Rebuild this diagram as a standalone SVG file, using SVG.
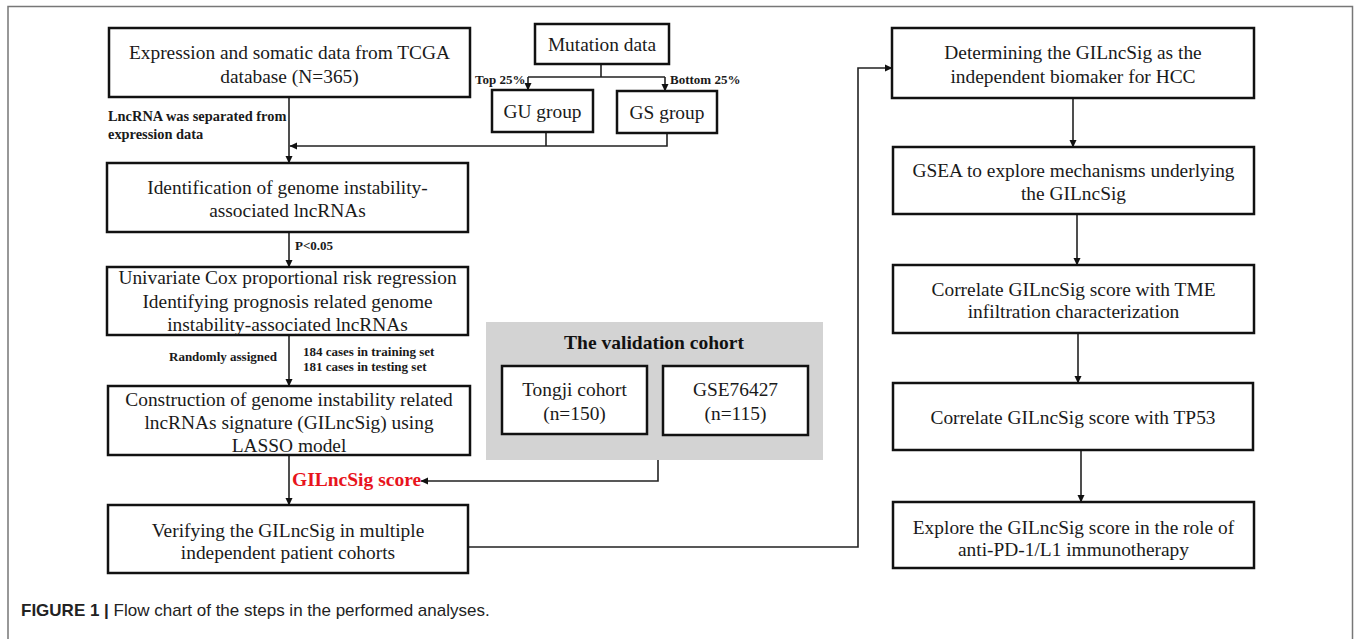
<svg xmlns="http://www.w3.org/2000/svg" width="1354" height="639" viewBox="0 0 1354 639">
<defs>
<marker id="ah" markerWidth="8" markerHeight="8" refX="7" refY="4" orient="auto" markerUnits="userSpaceOnUse">
<path d="M0,0.5 L7.5,4 L0,7.5 Z" fill="#111"/>
</marker>
</defs>
<style>
.box{fill:#fff;stroke:#111;stroke-width:2.5}
.t{font-family:"Liberation Serif","Times New Roman",serif;font-size:19.4px;fill:#1a1a1a;text-anchor:middle}
.lb{font-family:"Liberation Serif","Times New Roman",serif;font-size:13px;font-weight:bold;fill:#1a1a1a}
.lb2{font-size:14.4px}
.c{fill:none;stroke:#222;stroke-width:1.6}
.frame{fill:none;stroke:#777;stroke-width:1.5}
</style>
<rect width="1354" height="639" fill="#fff"/>
<path class="frame" d="M8,639 V6.5 H1352.5 V639"/>

<g id="validation">
<rect x="486" y="322" width="337" height="138" fill="#d3d3d3"/>
<text x="654" y="349" font-family="Liberation Serif,Times New Roman,serif" font-size="19.5" font-weight="bold" text-anchor="middle" fill="#111">The validation cohort</text>
</g>

<g id="connectors">
<path class="c" d="M289,97 V163" marker-end="url(#ah)"/>
<path class="c" d="M601,64 V77 M528,77 H665"/>
<path class="c" d="M528,77 V90" marker-end="url(#ah)"/>
<path class="c" d="M665,77 V91" marker-end="url(#ah)"/>
<path class="c" d="M546,132 V146 M667,133 V146 H290" marker-end="url(#ah)"/>
<path class="c" d="M289,232 V267" marker-end="url(#ah)"/>
<path class="c" d="M289,335 V386" marker-end="url(#ah)"/>
<path class="c" d="M289,455 V505" marker-end="url(#ah)"/>
<path class="c" d="M658,460 V481 H421" marker-end="url(#ah)"/>
<path class="c" d="M468,547 H858 V68 H892" marker-end="url(#ah)"/>
<path class="c" d="M1073,98 V147" marker-end="url(#ah)"/>
<path class="c" d="M1077,214 V265" marker-end="url(#ah)"/>
<path class="c" d="M1078,333 V383" marker-end="url(#ah)"/>
<path class="c" d="M1081,450 V502" marker-end="url(#ah)"/>
</g>

<g id="labels">
<text class="lb lb2" x="108" y="121">LncRNA was separated from</text>
<text class="lb lb2" x="108" y="139">expression data</text>
<text class="lb" x="475" y="84">Top 25%</text>
<text class="lb" x="670" y="84">Bottom 25%</text>
<text class="lb" x="295" y="250">P&lt;0.05</text>
<text class="lb" x="277" y="361" text-anchor="end">Randomly assigned</text>
<text class="lb" x="303" y="356">184 cases in training set</text>
<text class="lb" x="303" y="371">181 cases in testing set</text>
<text x="292" y="486" font-family="Liberation Serif,Times New Roman,serif" font-size="19.5" font-weight="bold" fill="#e8141c">GILncSig score</text>
</g>

<g id="n1"><rect class="box" x="109" y="28" width="361" height="69"/>
<text class="t" x="289.5" y="59">Expression and somatic data from TCGA</text>
<text class="t" x="289.5" y="83">database (N=365)</text></g>

<g id="n_mut"><rect class="box" x="535" y="24" width="134" height="40"/>
<text class="t" x="602" y="51">Mutation data</text></g>

<g id="n_gu"><rect class="box" x="492" y="90" width="101" height="42"/>
<text class="t" x="542.5" y="118">GU group</text></g>

<g id="n_gs"><rect class="box" x="617" y="91" width="100" height="42"/>
<text class="t" x="667" y="119">GS group</text></g>

<g id="n2"><rect class="box" x="107" y="163" width="361" height="69"/>
<text class="t" x="287.5" y="194">Identification of genome instability-</text>
<text class="t" x="287.5" y="217">associated lncRNAs</text></g>

<g id="n3"><rect class="box" x="107" y="267" width="361" height="68"/>
<text class="t" x="287.5" y="284">Univariate Cox proportional risk regression</text>
<text class="t" x="287.5" y="308">Identifying prognosis related genome</text>
<text class="t" x="287.5" y="331">instability-associated lncRNAs</text></g>

<g id="n4"><rect class="box" x="108" y="386" width="362" height="69"/>
<text class="t" x="289" y="406">Construction of genome instability related</text>
<text class="t" x="289" y="429">lncRNAs signature (GILncSig) using</text>
<text class="t" x="289" y="452">LASSO model</text></g>

<g id="n5"><rect class="box" x="108" y="505" width="360" height="68"/>
<text class="t" x="288" y="537">Verifying the GILncSig in multiple</text>
<text class="t" x="288" y="559">independent patient cohorts</text></g>

<g id="n_tongji"><rect class="box" x="502" y="366" width="145" height="68"/>
<text class="t" x="574.5" y="396">Tongji cohort</text>
<text class="t" x="574.5" y="420">(n=150)</text></g>

<g id="n_gse"><rect class="box" x="663" y="366" width="145" height="69"/>
<text class="t" x="735.5" y="396">GSE76427</text>
<text class="t" x="735.5" y="420">(n=115)</text></g>

<g id="n6"><rect class="box" x="892" y="28" width="362" height="70"/>
<text class="t" x="1073" y="59">Determining the GILncSig as the</text>
<text class="t" x="1073" y="83">independent biomaker for HCC</text></g>

<g id="n7"><rect class="box" x="893" y="147" width="361" height="67"/>
<text class="t" x="1073.5" y="177">GSEA to explore mechanisms underlying</text>
<text class="t" x="1073.5" y="200">the GILncSig</text></g>

<g id="n8"><rect class="box" x="893" y="265" width="361" height="68"/>
<text class="t" x="1073.5" y="296">Correlate GILncSig score with TME</text>
<text class="t" x="1073.5" y="318">infiltration characterization</text></g>

<g id="n9"><rect class="box" x="893" y="383" width="360" height="67"/>
<text class="t" x="1073" y="424">Correlate GILncSig score with TP53</text></g>

<g id="n10"><rect class="box" x="893" y="502" width="361" height="66"/>
<text class="t" x="1073.5" y="534">Explore the GILncSig score in the role of</text>
<text class="t" x="1073.5" y="556">anti-PD-1/L1 immunotherapy</text></g>

<g id="caption">
<text x="21" y="616" font-family="Liberation Sans,Arial,sans-serif" font-size="17" fill="#222"><tspan font-weight="bold">FIGURE 1 | </tspan>Flow chart of the steps in the performed analyses.</text>
</g>
</svg>
